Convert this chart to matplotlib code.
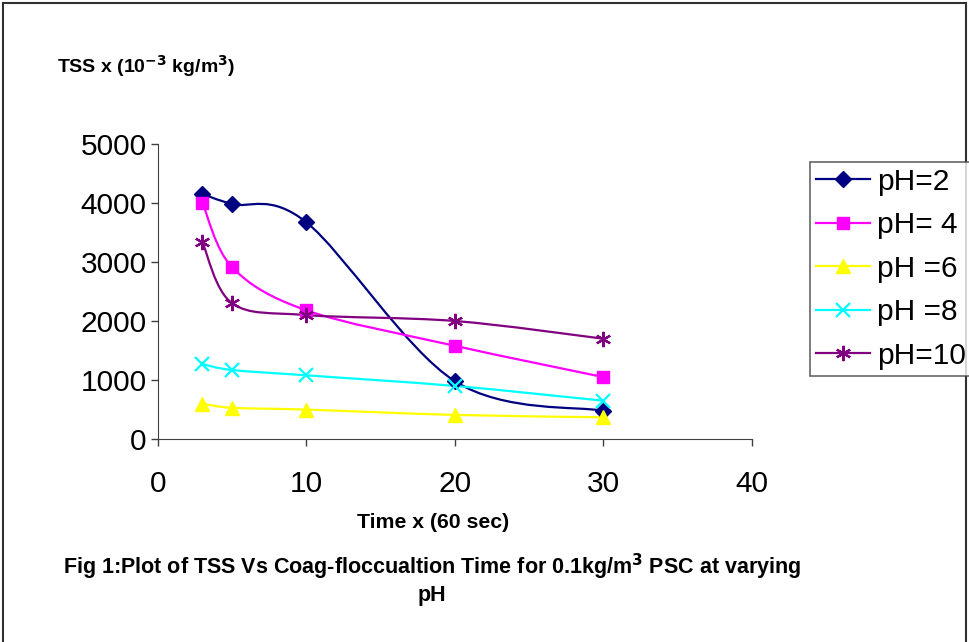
import matplotlib
matplotlib.use("Agg")
import matplotlib.pyplot as plt
import numpy as np
from matplotlib.path import Path
from matplotlib.patches import PathPatch
from matplotlib.lines import Line2D

plt.rcParams['font.family'] = ['Liberation Sans', 'DejaVu Sans']

time = [3, 5, 10, 20, 30]
ph2 = [4150, 3980, 3670, 980, 480]
ph4 = [4000, 2910, 2180, 1580, 1050]
ph6 = [600, 530, 500, 410, 370]
ph8 = [1270, 1170, 1080, 900, 650]
ph10 = [3330, 2300, 2100, 2000, 1700]
labels = ["pH=2", "pH= 4", "pH =6", "pH =8", "pH=10"]

series = [ph2, ph4, ph6, ph8, ph10]
colors = ["#000080", "#FF00FF", "#FFFF00", "#00FFFF", "#800080"]
markers = ["D", "s", "^", "x", (6, 2, 0)]
msizes = [8, 9, 10, 10, 11]


def smooth_path(xs, ys):
    # excel-like smoothed line: cubic bezier through the points
    p = np.column_stack([xs, ys]).astype(float)
    n = len(p)
    verts = [p[0]]
    codes = [Path.MOVETO]
    for i in range(n - 1):
        p0 = p[i - 1] if i > 0 else p[i]
        p3 = p[i + 2] if i + 2 < n else p[i + 1]
        c1 = p[i] + (p[i + 1] - p0) / 6.0
        c2 = p[i + 1] - (p3 - p[i]) / 6.0
        verts += [c1, c2, p[i + 1]]
        codes += [Path.CURVE4] * 3
    return Path(verts, codes)


fig = plt.figure(figsize=(9.69, 6.42), dpi=100)
# page frame (left, top, right only)
for xs, ys in [([0.003, 0.003], [0, 0.995]), ([0.003, 0.997], [0.995, 0.995]), ([0.997, 0.997], [0, 0.995])]:
    fig.add_artist(Line2D(xs, ys, color="#303030", lw=1.5, transform=fig.transFigure))

ax = fig.add_axes([0.163, 0.316, 0.613, 0.46])

handles = []
for ys, c, m, ms, lab in zip(series, colors, markers, msizes, labels):
    ax.add_patch(PathPatch(smooth_path(time, ys), facecolor="none", edgecolor=c, lw=1.6, zorder=2))
    mew = 1.6 if m == "x" or isinstance(m, tuple) else 1
    ax.plot(time, ys, linestyle="none", marker=m, color=c, markersize=ms, markeredgewidth=mew, zorder=3)
    handles.append(Line2D([], [], color=c, lw=1.6, marker=m, markersize=ms, markeredgewidth=mew, label=lab))

ax.set_xlim(0, 40)
ax.set_ylim(0, 5000)
ax.set_xticks([0, 10, 20, 30, 40])
ax.set_yticks([0, 1000, 2000, 3000, 4000, 5000])
ax.spines['top'].set_visible(False)
ax.spines['right'].set_visible(False)
for s in ("left", "bottom"):
    ax.spines[s].set_color("#404040")
ax.tick_params(labelsize=21.5, direction="out", length=5, width=1, color="#404040", pad=3)
ax.tick_params(axis="x", pad=17)

leg = fig.legend(handles=handles, loc="upper left", bbox_to_anchor=(0.836, 0.748),
                 fontsize=21.5, frameon=True, fancybox=False, edgecolor="#404040",
                 handlelength=1.8, handletextpad=0.25, labelspacing=0.52, borderpad=0.2,
                 borderaxespad=0)
leg.get_frame().set_linewidth(1.2)

fig.text(0.059, 0.897, r"TSS x (10$^{\mathbf{-3}}$ kg/m$^{\mathbf{3}}$)", fontsize=14, fontweight="bold",
         ha="left", va="center")
fig.text(0.447, 0.186, "Time x (60 sec)", fontsize=15.3, fontweight="bold", ha="center", va="center")
fig.text(0.446, 0.117, r"Fig 1:Plot of TSS Vs Coag-floccualtion Time for 0.1kg/m$^{\mathbf{3}}$ PSC at varying",
         fontsize=15.5, fontweight="bold", ha="center", va="center")
fig.text(0.446, 0.072, "pH", fontsize=15.5, fontweight="bold", ha="center", va="center")

fig.savefig("out.png", dpi=100)
